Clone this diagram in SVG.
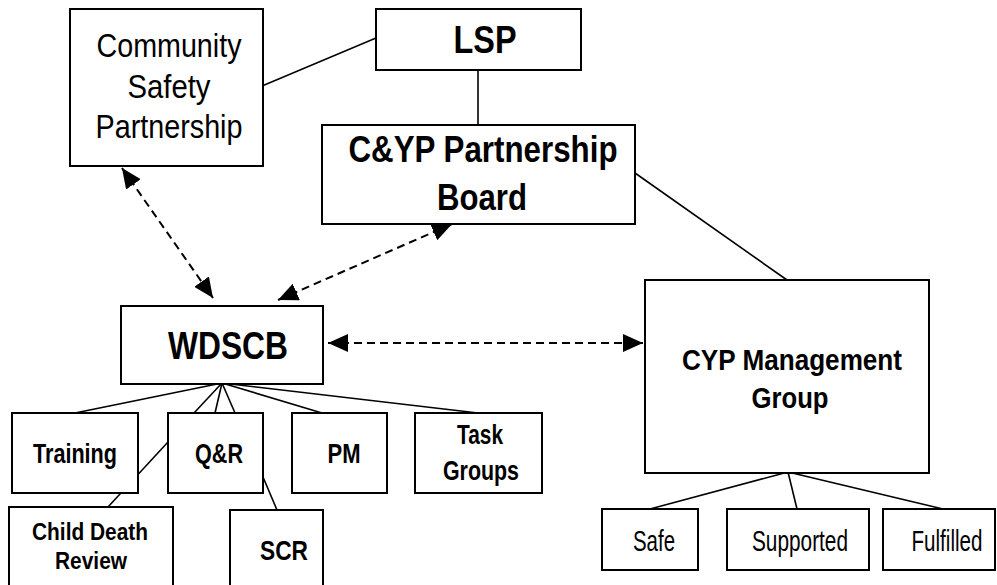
<svg xmlns="http://www.w3.org/2000/svg" width="997" height="585" viewBox="0 0 997 585">
<style>
.box{fill:#fff;stroke:#000;stroke-width:2}
.ln{stroke:#000;stroke-width:1.6;fill:none}
.dash{stroke:#000;stroke-width:2;fill:none;stroke-dasharray:8 5}
text{font-family:"Liberation Sans",Arial,sans-serif;fill:#000;text-anchor:middle}
.b{font-weight:bold}
</style>
<defs>
<marker id="ah" viewBox="0 0 20 18" refX="20" refY="9" markerWidth="20" markerHeight="18" markerUnits="userSpaceOnUse" orient="auto-start-reverse">
<path d="M0,0 L20,9 L0,18 z" fill="#000"/>
</marker>
</defs>
<rect width="997" height="585" fill="#fff"/>
<g id="connectors">
<line class="ln" x1="262" y1="86" x2="376" y2="38"/>
<line class="ln" x1="478" y1="70" x2="478" y2="125"/>
<line class="ln" x1="635" y1="173" x2="787" y2="280"/>
<line class="ln" x1="222" y1="383" x2="75" y2="413"/>
<line class="ln" x1="222" y1="383" x2="194" y2="413"/>
<line class="ln" x1="222" y1="383" x2="215" y2="413"/>
<line class="ln" x1="222" y1="383" x2="235" y2="413"/>
<line class="ln" x1="222" y1="383" x2="322" y2="413"/>
<line class="ln" x1="222" y1="383" x2="478" y2="413"/>
<line class="ln" x1="168" y1="442" x2="108" y2="507"/>
<line class="ln" x1="263" y1="477" x2="277" y2="510"/>
<line class="ln" x1="788" y1="472" x2="650" y2="509"/>
<line class="ln" x1="788" y1="472" x2="797" y2="509"/>
<line class="ln" x1="788" y1="472" x2="943" y2="509"/>
<line class="dash" x1="122" y1="168" x2="213" y2="298" marker-start="url(#ah)" marker-end="url(#ah)"/>
<line class="dash" x1="278" y1="300" x2="452" y2="224" marker-start="url(#ah)" marker-end="url(#ah)"/>
<line class="dash" x1="328" y1="343" x2="643" y2="343" marker-start="url(#ah)" marker-end="url(#ah)"/>
</g>
<g id="community">
<rect class="box" x="70" y="9" width="193" height="157"/>
<text x="169" y="57" font-size="34" textLength="145" lengthAdjust="spacingAndGlyphs">Community</text>
<text x="169" y="98" font-size="34" textLength="83" lengthAdjust="spacingAndGlyphs">Safety</text>
<text x="169" y="138" font-size="34" textLength="147" lengthAdjust="spacingAndGlyphs">Partnership</text>
</g>
<g id="lsp">
<rect class="box" x="376" y="9" width="205" height="61"/>
<text class="b" x="485" y="53" font-size="38" textLength="63" lengthAdjust="spacingAndGlyphs">LSP</text>
</g>
<g id="cyp-board">
<rect class="box" x="322" y="125" width="313" height="99"/>
<text class="b" x="483" y="162" font-size="37" textLength="269" lengthAdjust="spacingAndGlyphs">C&amp;YP Partnership</text>
<text class="b" x="482" y="210" font-size="37" textLength="90" lengthAdjust="spacingAndGlyphs">Board</text>
</g>
<g id="wdscb">
<rect class="box" x="121" y="306" width="202" height="78"/>
<text class="b" x="228" y="359" font-size="38" textLength="120" lengthAdjust="spacingAndGlyphs">WDSCB</text>
</g>
<g id="cyp-management">
<rect class="box" x="645" y="280" width="284" height="193"/>
<text class="b" x="792" y="370" font-size="29" textLength="220" lengthAdjust="spacingAndGlyphs">CYP Management</text>
<text class="b" x="790" y="408" font-size="29" textLength="77" lengthAdjust="spacingAndGlyphs">Group</text>
</g>
<g id="training">
<rect class="box" x="12" y="413" width="126" height="80"/>
<text class="b" x="75" y="463" font-size="28" textLength="84" lengthAdjust="spacingAndGlyphs">Training</text>
</g>
<g id="qr">
<rect class="box" x="168" y="413" width="95" height="80"/>
<text class="b" x="219" y="463" font-size="28" textLength="48" lengthAdjust="spacingAndGlyphs">Q&amp;R</text>
</g>
<g id="pm">
<rect class="box" x="292" y="413" width="95" height="80"/>
<text class="b" x="344" y="463" font-size="28" textLength="33" lengthAdjust="spacingAndGlyphs">PM</text>
</g>
<g id="task-groups">
<rect class="box" x="415" y="413" width="127" height="80"/>
<text class="b" x="480" y="444" font-size="27" textLength="46" lengthAdjust="spacingAndGlyphs">Task</text>
<text class="b" x="481" y="480" font-size="27" textLength="76" lengthAdjust="spacingAndGlyphs">Groups</text>
</g>
<g id="child-death-review">
<rect class="box" x="9" y="507" width="164" height="90"/>
<text class="b" x="90" y="540" font-size="24" textLength="116" lengthAdjust="spacingAndGlyphs">Child Death</text>
<text class="b" x="91" y="569" font-size="24" textLength="72" lengthAdjust="spacingAndGlyphs">Review</text>
</g>
<g id="scr">
<rect class="box" x="230" y="510" width="93" height="90"/>
<text class="b" x="284" y="560" font-size="28" textLength="48" lengthAdjust="spacingAndGlyphs">SCR</text>
</g>
<g id="safe">
<rect class="box" x="602" y="509" width="96" height="61"/>
<text x="654" y="551" font-size="30" textLength="42" lengthAdjust="spacingAndGlyphs">Safe</text>
</g>
<g id="supported">
<rect class="box" x="727" y="509" width="142" height="61"/>
<text x="800" y="551" font-size="30" textLength="96" lengthAdjust="spacingAndGlyphs">Supported</text>
</g>
<g id="fulfilled">
<rect class="box" x="883" y="509" width="112" height="61"/>
<text x="947" y="551" font-size="30" textLength="71" lengthAdjust="spacingAndGlyphs">Fulfilled</text>
</g>
</svg>
